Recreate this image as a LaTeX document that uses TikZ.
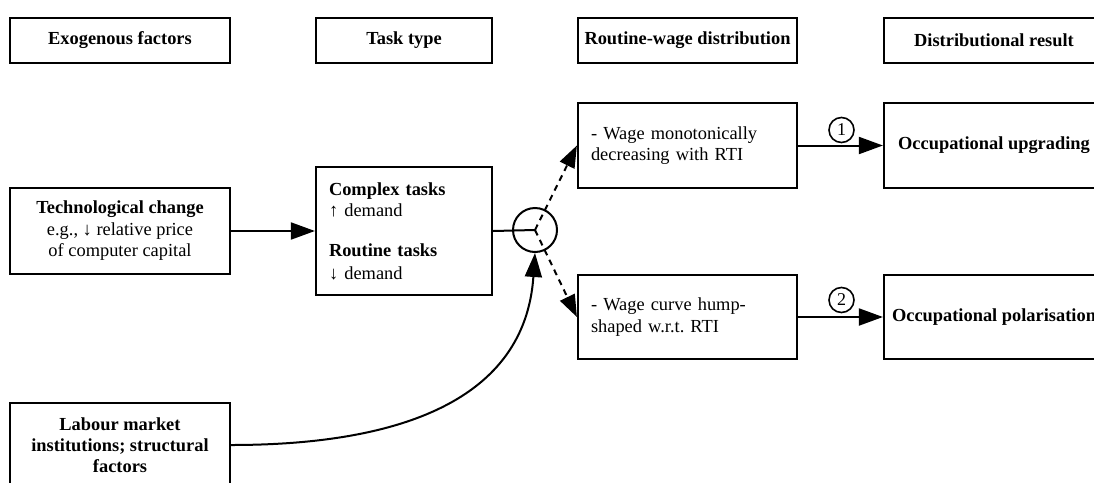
\documentclass[tikz,border=0pt]{standalone}
\usepackage{fontspec}
\setmainfont{Liberation Serif}
\usetikzlibrary{arrows.meta}
\begin{document}
\begin{tikzpicture}[x=1pt,y=-1pt,
  font=\fontsize{18.4}{21.5}\selectfont,
  box/.style={draw, line width=2.2pt, inner sep=0pt, align=center},
  lbox/.style={draw, line width=2.2pt, inner xsep=13pt, inner ysep=0pt, align=left},
  arr/.style={line width=2pt, -{Triangle[length=24pt,width=17pt]}},
  darr/.style={line width=2pt, dash pattern=on 6pt off 5pt, -{Triangle[length=22pt,width=16pt]}},
  num/.style={circle, draw, line width=1.6pt, minimum size=25pt, inner sep=0pt, font=\fontsize{18}{18}\selectfont},
  hub/.style={circle, draw, line width=2pt, minimum size=44pt, inner sep=0pt}
]
\clip (0,0) rectangle (1094,482);
\fill[white] (0,0) rectangle (1094,482);

% headers
\node[box, minimum width=220pt, minimum height=45pt] (h1) at (120,40.5) {\textbf{Exogenous factors}};
\node[box, minimum width=176pt, minimum height=45pt] (h2) at (404,40.5) {\textbf{Task type}};
\node[box, minimum width=219pt, minimum height=45pt] (h3) at (687.5,40.5) {\textbf{Routine-wage distribution}};
\node[box, minimum width=220pt, minimum height=45pt] (h4) at (994,40.5) {\textbf{Distributional result}};

% column 1
\node[box, minimum width=220pt, minimum height=86pt] (tech) at (120,231)
  {\textbf{Technological change}\\ e.g., ↓ relative price\\ of computer capital};
\node[box, minimum width=220pt, minimum height=84pt, font=\fontsize{18.4}{21}\selectfont] (lab) at (120,445)
  {\textbf{Labour market}\\ \textbf{institutions; structural}\\ \textbf{factors}};

% column 2
\node[lbox, text width=150pt, minimum height=128pt] (task) at (404,231)
  {\textbf{Complex tasks}\\ ↑ demand\\[18pt] \textbf{Routine tasks}\\[1.5pt] ↓ demand};
\node[hub] (hub) at (535,230) {};

% column 3
\node[lbox, text width=193pt, minimum height=85pt] (w1) at (687.5,145.5)
  {- Wage monotonically\\ decreasing with RTI};
\node[lbox, text width=193pt, minimum height=84pt] (w2) at (687.5,317)
  {- Wage curve hump-\\ shaped w.r.t.\ RTI};

% column 4
\node[box, minimum width=220pt, minimum height=85pt] (r1) at (994,145.5) {\textbf{Occupational upgrading}};
\node[box, minimum width=220pt, minimum height=84pt] (r2) at (994,317) {\textbf{Occupational polarisation}};

% numbers
\node[num] (n1) at (841.5,130) {1};
\node[num] (n2) at (841.5,300) {2};

% connectors
\draw[arr] (tech.east) -- (task.west);
\draw[line width=2pt] (task.east) -- (hub.center);
\draw[darr] (hub.center) -- (w1.west);
\draw[darr] (hub.center) -- (w2.west);
\draw[arr] (lab.east) .. controls (400,445) and (525,400) .. (hub.south);
\draw[arr] (w1.east) -- (r1.west);
\draw[arr] (w2.east) -- (r2.west);
\end{tikzpicture}
\end{document}
